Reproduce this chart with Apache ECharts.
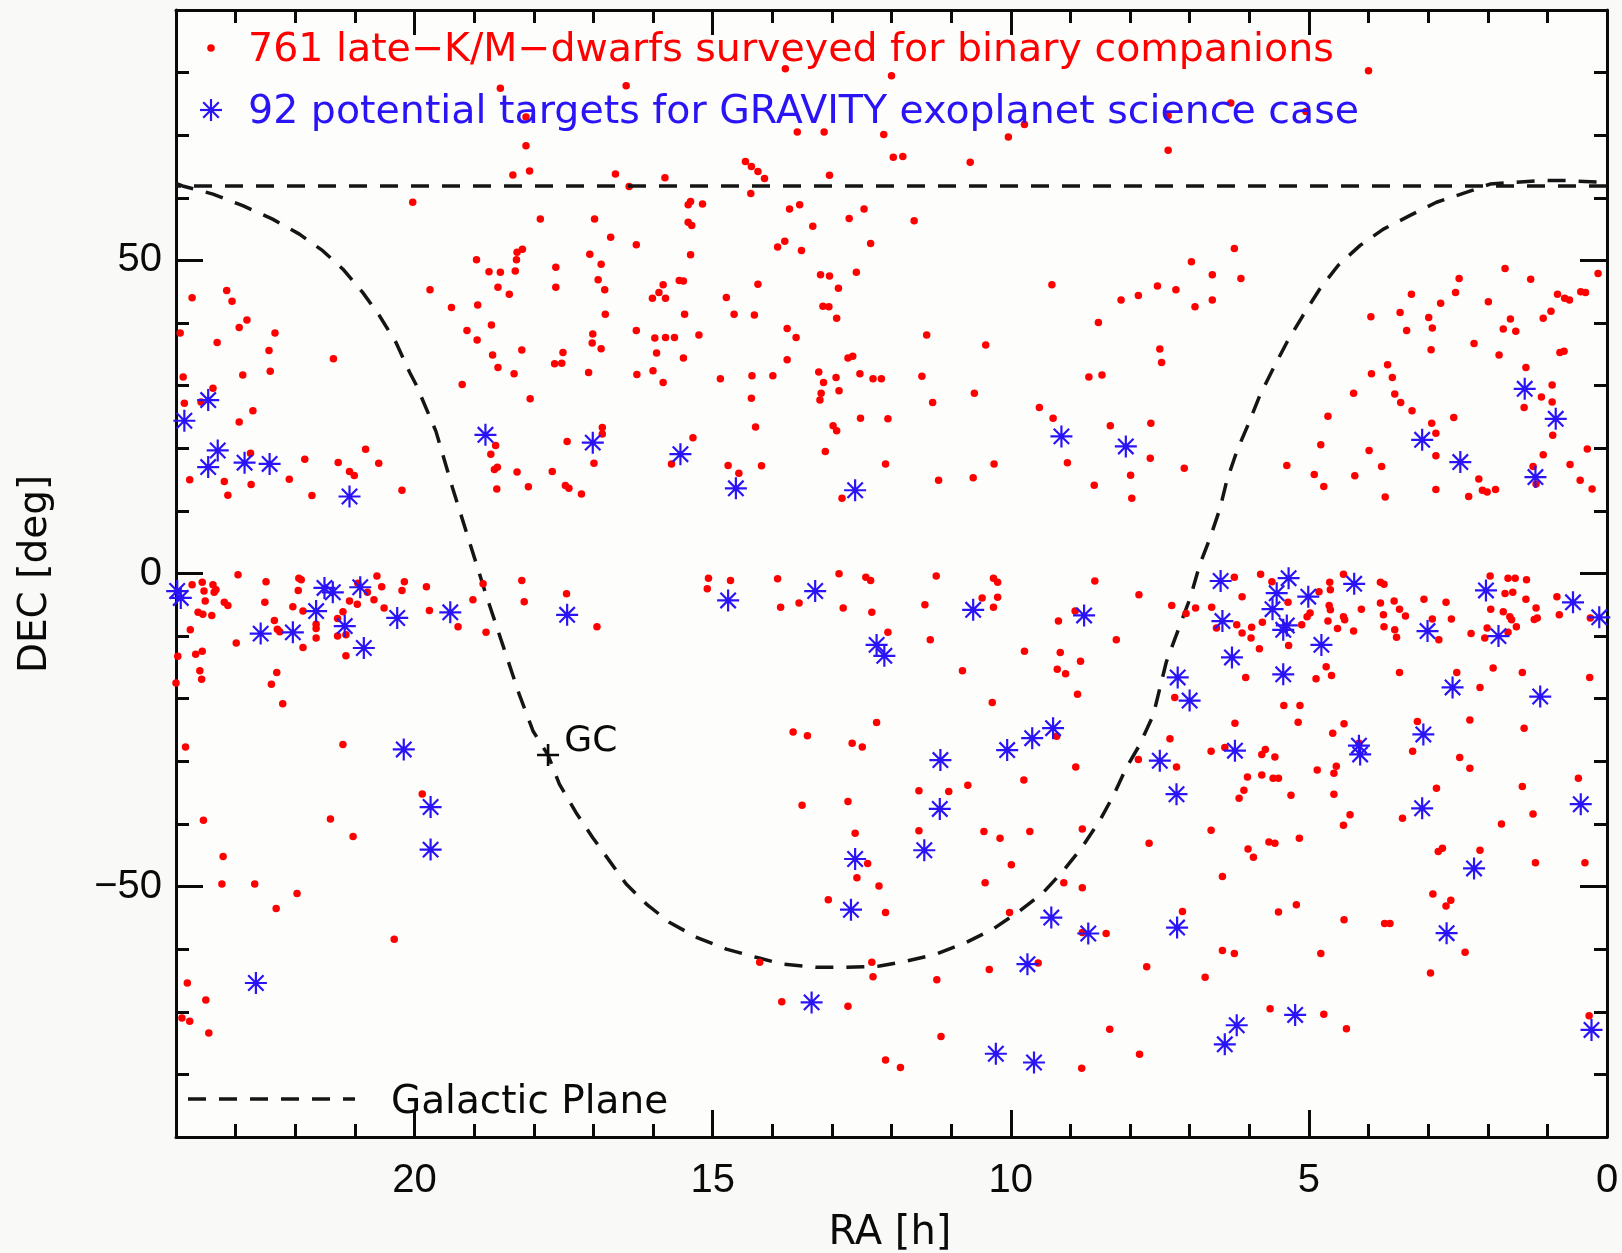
<!DOCTYPE html>
<html><head><meta charset="utf-8">
<script src="https://cdn.jsdelivr.net/npm/echarts@6/dist/echarts.min.js"></script>
<style>html,body{margin:0;padding:0;background:#f9faf8;}#chart{width:1622px;height:1253px;}</style>
</head><body><div id="chart"></div>
<script>
// ---- tick labels / ticks ----
const raMajorTicks = [0, 5, 10, 15, 20];
const raMinorTicks = [1, 2, 3, 4, 6, 7, 8, 9, 11, 12, 13, 14, 16, 17, 18, 19, 21, 22, 23];
const decMajorTicks = [-50, 0, 50];
const decMinorTicks = [-80, -70, -60, -40, -30, -20, -10, 10, 20, 30, 40, 60, 70, 80];

// ---- late-K/M dwarfs surveyed [RA h, DEC deg] ----
const dwarfs = [
[18.56,77.5],[18.13,72.9],[18.13,68.3],[18.35,63.65],[18.07,64.3],[20.03,59.3],[18.28,51.3],[18.19,51.8],[18.29,50.1],[18.96,50.1],[18.75,48.2],[18.56,48.1],[18.31,48.3],[18.6,45.7],[18.41,44.6],[19.74,45.3],[19.38,42.5],[18.94,42.9],[19.12,38.8],[18.71,39.7],[18.95,37.3],[18.69,34.9],[18.6,32.9],[18.33,31.9],[18.2,35.7],[23.73,44.05],[23.15,45.2],[23.06,43.5],[22.81,40.5],[22.94,39.3],[22.34,38.4],[23.93,38.4],[23.31,36.9],[22.44,35.6],[21.36,34.3],[22.88,31.7],[22.42,32.3],[23.88,31.4],
[16.45,77.9],[13.78,80.6],[13.58,70.5],[13.13,70.5],[12.13,70.1],[16.63,63.8],[16.4,61.8],[15.8,63.2],[14.45,65.8],[14.35,65.0],[14.24,64.2],[14.13,63.1],[14.36,60.7],[13.04,63.6],[17.89,56.6],[16.98,56.6],[16.71,53.7],[16.28,52.5],[15.41,58.9],[15.37,59.4],[15.17,59.0],[15.41,56.1],[15.35,55.6],[15.37,50.9],[17.06,51.0],[16.87,49.4],[17.63,48.9],[17.63,45.7],[16.92,46.9],[16.81,45.3],[16.8,41.4],[16.01,43.95],[15.9,44.9],[15.83,46.1],[15.79,43.95],[15.56,46.8],[15.49,46.7],[15.47,41.4],[16.28,38.8],[15.97,37.6],[15.79,37.7],[15.64,37.7],[15.23,38.1],[17.01,38.25],[17.02,36.8],[16.87,35.9],[17.51,35.3],[17.65,33.5],[17.53,33.6],[17.08,32.1],[16.27,31.8],[16.0,32.4],[15.94,35.2],[15.83,30.5],[15.49,34.4],[14.87,31.1],[14.77,44.1],[14.64,41.4],[14.3,41.3],[14.24,46.2],[13.91,52.15],[13.79,53.05],[13.51,51.6],[13.71,58.2],[13.54,58.9],[13.32,55.45],[12.71,56.7],[12.46,58.2],[12.35,52.7],[13.19,47.7],[13.04,47.5],[12.89,45.55],[12.59,48.1],[13.15,42.7],[13.05,42.6],[12.92,40.75],[13.75,39.15],[13.6,37.7],[13.75,34.15],[13.22,32.2],[13.14,30.5],[12.93,31.3],[12.73,34.4],[12.65,34.7],[12.53,31.9],[12.31,31.1],[12.17,31.1],[14.34,31.6],[13.99,31.6],
[12.0,79.5],[11.97,66.5],[11.81,66.6],[10.68,65.7],[10.04,69.7],[9.77,71.7],[7.36,67.6],[6.31,75.15],[7.36,73.1],[11.62,56.35],[9.31,46.1],[11.41,38.1],[10.42,36.5],[11.49,31.5],[8.69,31.4],[8.47,31.7],[8.53,40.1],[8.15,43.7],[7.86,44.4],[7.54,45.9],[7.23,45.3],[6.97,49.8],[6.62,47.7],[6.62,43.7],[6.91,42.6],[6.25,51.9],[6.14,47.1],[7.5,35.85],[7.47,33.7],
[4.0,80.3],[5.05,73.8],[3.96,41.0],[3.47,41.7],[3.28,44.6],[3.36,38.8],[2.99,40.9],[2.93,39.2],[2.79,43.15],[2.54,44.9],[2.48,47.1],[2.95,35.75],[2.23,36.75],[1.99,43.4],[1.71,48.7],[1.62,40.65],[1.74,39.05],[1.53,38.7],[1.81,34.9],[1.28,47.0],[1.07,40.75],[0.94,41.9],[0.83,44.6],[0.71,43.95],[0.63,43.7],[0.44,45.0],[0.36,44.9],[0.15,47.9],[0.79,35.3],[0.72,35.5],[1.36,32.9],[3.95,31.9],[3.68,33.35],[3.6,31.3],
[23.38,29.6],[19.2,30.2],[18.06,27.9],[23.86,27.2],[23.58,27.4],[22.71,26.0],[22.94,24.2],[18.64,20.45],[18.72,19.06],[18.66,16.6],[18.61,16.95],[18.62,13.5],[18.28,16.2],[18.09,13.85],[22.75,19.2],[20.82,19.86],[21.84,18.26],[21.28,17.73],[20.6,17.6],[21.09,16.3],[21.01,15.65],[23.77,14.96],[23.19,14.7],[23.13,12.5],[22.74,14.2],[22.1,15.07],[21.72,12.46],[20.21,13.3],[22.96,-0.2],[23.73,-1.8],[23.56,-1.4],[23.38,-1.8],[23.53,-2.8],[23.36,-3.0],[23.33,-2.6],[23.51,-4.4],[23.19,-4.6],[23.13,-5.1],[23.63,-6.2],[23.55,-6.5],[23.4,-6.7],[23.76,-9.0],[23.97,-13.2],[23.67,-12.9],[23.56,-12.4],[23.6,-15.55],[23.57,-16.9],[24.0,-17.5],[23.84,-27.7],[22.99,-11.1],[22.49,-1.3],[21.94,-0.75],[21.9,-1.0],[21.95,-2.7],[22.51,-4.6],[22.04,-5.3],[21.87,-6.0],[22.35,-7.5],[22.3,-8.9],[22.26,-9.3],[21.87,-11.8],[21.65,-8.1],[21.65,-8.8],[21.65,-10.3],[21.2,-6.1],[21.29,-7.2],[21.09,-4.4],[20.96,-4.9],[20.95,-1.55],[20.79,-3.0],[20.68,-4.2],[20.63,-0.4],[20.55,-2.1],[20.51,-5.5],[20.21,-2.7],[20.17,-1.3],[19.8,-2.1],[19.75,-5.9],[19.27,-8.5],[19.02,-4.2],[18.85,-1.65],[18.8,-9.4],[18.2,-1.1],[18.16,-4.5],[21.29,-10.0],[21.15,-9.8],[21.15,-13.15],[22.31,-15.8],[22.4,-17.7],[22.21,-20.8],[21.2,-27.3],
[14.35,28.0],[13.18,28.8],[13.2,27.7],[12.88,29.2],[12.52,24.8],[12.06,24.7],[14.28,23.4],[12.98,23.6],[12.92,22.8],[13.11,19.5],[12.1,17.5],[16.85,23.3],[16.85,22.3],[17.44,21.1],[16.99,17.6],[17.69,16.3],[17.47,14.05],[17.41,13.6],[17.2,12.7],[15.33,21.7],[15.69,17.5],[14.74,17.25],[14.56,16.0],[14.18,17.2],[12.83,12.0],[17.45,-3.25],[16.94,-8.5],[15.07,-0.75],[15.09,-2.45],[14.7,-1.1],[13.91,-0.85],[13.86,-5.4],[13.55,-4.7],[12.88,-0.05],[12.43,-0.6],[12.35,-1.1],[12.81,-5.5],[12.33,-6.2],[12.06,-9.4],[12.25,-23.8],[13.65,-25.3],[13.41,-25.9],[12.66,-27.1],[12.49,-27.7],
[10.61,28.8],[11.31,27.3],[9.52,26.5],[9.29,24.8],[8.33,23.6],[7.65,24.0],[10.28,17.5],[11.21,14.9],[10.63,15.3],[9.05,17.7],[8.6,14.1],[7.99,15.7],[7.97,12.0],[7.66,18.4],[7.09,16.8],[11.25,-0.4],[10.29,-0.75],[10.22,-1.4],[11.44,-5.0],[10.48,-3.9],[10.22,-3.8],[10.29,-5.4],[8.59,-1.2],[7.85,-3.4],[7.3,-5.1],[7.06,-6.4],[6.9,-5.5],[6.63,-5.4],[6.25,-0.6],[6.12,-3.7],[6.21,-8.2],[6.12,-9.5],[5.96,-8.6],[5.97,-10.3],[6.55,-8.7],[8.92,-6.0],[9.2,-7.6],[11.35,-10.6],[8.23,-10.6],[9.77,-12.4],[9.17,-12.6],[8.83,-14.0],[9.22,-15.3],[9.08,-16.0],[10.81,-15.55],[8.88,-19.3],[10.31,-20.6],[7.25,-19.8],[6.06,-16.6],[6.24,-23.9],[7.33,-26.4],[6.64,-28.4],[6.41,-27.8],[7.86,-29.7],[9.23,-26.0],
[4.25,28.8],[3.56,28.65],[3.46,27.3],[3.27,26.0],[4.68,25.1],[2.94,24.0],[2.87,22.4],[2.57,24.9],[2.87,18.8],[4.8,20.55],[3.99,19.65],[5.37,17.25],[4.91,15.8],[4.75,13.9],[4.23,15.6],[3.78,17.1],[3.72,12.2],[2.87,13.4],[2.32,12.3],[2.15,15.1],[2.09,13.3],[2.01,13.0],[1.87,13.4],[1.39,26.5],[1.1,28.2],[0.92,30.1],[0.92,27.4],[0.91,22.1],[1.07,18.95],[1.24,17.1],[1.19,14.3],[0.62,17.4],[0.45,14.9],[0.25,13.5],[0.33,19.9],[5.81,-0.1],[5.62,-1.3],[5.35,-4.6],[5.78,-7.8],[5.83,-12.0],[5.34,-11.5],[5.12,-8.2],[5.03,-6.9],[4.98,-6.3],[4.83,-2.9],[4.65,-1.4],[4.64,-2.6],[4.66,-5.1],[4.64,-5.8],[4.68,-7.6],[4.52,-8.8],[4.42,-0.1],[4.42,-6.9],[4.4,-7.4],[4.25,-9.2],[4.12,-5.7],[3.8,-1.4],[3.74,-1.7],[3.8,-4.7],[3.75,-6.6],[3.74,-8.5],[3.57,-4.4],[3.48,-5.7],[3.38,-6.8],[3.56,-9.0],[3.53,-10.2],[3.07,-4.1],[2.93,-7.25],[2.82,-10.6],[2.7,-4.6],[2.61,-7.25],[2.28,-9.6],[1.96,-0.4],[1.66,-0.75],[1.54,-0.75],[1.35,-1.0],[1.71,-3.2],[1.58,-3.0],[1.36,-4.1],[1.95,-5.7],[1.74,-6.1],[1.63,-6.9],[1.6,-7.4],[1.19,-5.5],[1.22,-7.35],[1.17,-7.1],[1.52,-8.5],[2.01,-8.7],[2.05,-10.3],[1.66,-9.4],[0.84,-3.7],[0.8,-6.6],[0.28,-7.1],[4.71,-14.9],[4.62,-16.3],[4.88,-16.8],[5.42,-21.1],[5.15,-21.1],[5.18,-23.75],[4.41,-24.0],[4.6,-25.5],[5.73,-28.1],[5.79,-28.9],[5.57,-29.3],[3.48,-15.8],[2.52,-15.8],[2.13,-18.2],[1.91,-15.1],[1.42,-15.8],[0.29,-16.6],[3.18,-23.65],[3.26,-28.4],[2.47,-29.4],[2.3,-23.4],[1.39,-24.7],[4.16,-27.1],
[19.87,-35.2],[23.54,-39.4],[21.41,-39.2],[21.03,-42.0],[23.21,-45.2],[23.23,-49.6],[22.68,-49.6],[21.97,-51.1],[22.32,-53.5],[20.34,-58.4],[23.81,-65.4],[23.5,-68.1],[23.9,-71.0],[23.77,-71.5],[23.45,-73.4],
[13.5,-37.0],[12.73,-36.4],[12.61,-41.5],[12.4,-46.3],[12.58,-48.6],[12.21,-49.9],[13.06,-52.1],[12.1,-54.15],[14.21,-62.1],[12.33,-62.1],[12.31,-64.4],[13.84,-68.4],[12.73,-69.1],[12.1,-77.7],
[8.91,-30.9],[7.22,-30.9],[11.54,-34.7],[11.04,-34.8],[10.72,-33.8],[9.78,-33.0],[11.54,-41.1],[10.45,-41.2],[10.18,-42.3],[9.68,-41.2],[8.8,-40.8],[9.99,-46.5],[10.43,-49.4],[9.11,-49.4],[8.8,-50.2],[10.02,-54.15],[8.8,-57.35],[8.4,-57.5],[9.54,-62.2],[10.36,-63.25],[11.24,-64.9],[7.72,-62.8],[7.68,-43.1],[6.03,-32.5],[6.09,-34.6],[6.17,-35.9],[6.64,-41.0],[6.02,-44.0],[5.93,-45.3],[6.45,-48.4],[7.12,-54.0],[6.45,-60.2],[6.25,-60.7],[6.74,-64.5],[11.17,-73.95],[11.85,-78.9],[8.34,-72.8],[7.84,-76.8],[8.81,-79.0],
[5.79,-32.2],[5.6,-32.7],[5.51,-32.7],[5.3,-35.4],[4.86,-31.4],[4.58,-31.9],[4.54,-30.8],[4.58,-35.25],[4.31,-38.55],[4.42,-40.2],[5.67,-42.9],[5.57,-43.1],[5.16,-42.3],[3.43,-39.1],[2.86,-34.3],[2.3,-31.1],[2.83,-44.4],[2.76,-43.9],[2.13,-44.2],[1.77,-40.0],[1.42,-34.0],[1.24,-38.4],[1.2,-46.2],[0.48,-32.7],[0.37,-46.2],[2.92,-51.2],[2.7,-53.1],[2.62,-52.2],[5.51,-54.05],[5.21,-52.9],[4.41,-55.3],[3.73,-55.9],[3.64,-55.9],[4.8,-60.7],[2.38,-60.5],[2.96,-63.8],[5.65,-69.5],[4.75,-70.4],[4.37,-72.7],[0.3,-70.65]
];

// ---- potential GRAVITY targets [RA h, DEC deg] ----
const targets = [
[23.46,27.7],[23.86,24.4],[23.3,19.65],[23.46,17.0],[22.85,17.7],[22.43,17.5],[21.09,12.3],[18.81,22.15],[23.98,-2.8],[23.92,-3.9],
[21.51,-2.3],[21.37,-3.0],[20.91,-2.2],[21.65,-6.0],[21.17,-8.4],[22.58,-9.6],[22.04,-9.4],[20.85,-11.9],[20.29,-7.1],[19.4,-6.2],
[20.18,-28.1],[17.01,20.9],[15.54,19.06],[14.61,13.6],[12.61,13.3],[17.44,-6.6],[14.74,-4.3],[13.28,-2.8],[12.25,-11.4],[12.12,-13.15],
[9.15,21.9],[8.07,20.3],[10.63,-5.8],[8.77,-6.7],[6.48,-1.2],[6.45,-7.6],[6.29,-13.4],[7.2,-16.6],[7.0,-20.3],[9.29,-24.7],
[9.64,-26.3],[10.06,-28.2],[11.18,-29.8],[7.5,-29.9],[6.24,-28.3],[1.38,29.5],[0.86,24.7],[3.1,21.35],[2.46,17.8],[1.2,15.4],
[5.34,-0.75],[5.54,-3.15],[5.01,-3.7],[5.61,-5.7],[5.43,-9.0],[5.37,-8.3],[4.24,-1.65],[4.79,-11.4],[5.43,-16.1],[3.01,-9.2],
[2.03,-2.7],[1.82,-10.0],[0.57,-4.6],[0.13,-7.0],[2.59,-18.2],[1.12,-19.65],[3.08,-25.7],[4.16,-27.5],[4.14,-28.9],[19.73,-37.3],
[19.73,-44.1],[22.66,-65.4],[12.61,-45.6],[12.68,-53.7],[13.34,-68.5],[11.19,-37.6],[11.45,-44.2],[9.32,-54.95],[8.7,-57.5],[9.72,-62.4],
[7.21,-56.55],[10.25,-76.7],[9.61,-78.1],[6.21,-72.15],[6.41,-75.2],[7.22,-35.25],[3.1,-37.5],[2.23,-47.1],[2.69,-57.45],[5.23,-70.5],
[0.44,-36.85],[0.26,-72.9]
];

// ---- galactic plane ----
const galacticPlane = [
[24.0,62.3],[23.89,61.9],[23.38,60.6],[22.88,58.75],[22.38,56.6],[21.93,54.2],[21.54,51.56],[21.2,48.6],[20.87,44.9],[20.59,41.2],[20.31,36.9],[20.08,32.1],[19.97,30.1],
[19.64,22.7],[19.36,13.6],[19.08,5.1],[18.8,-3.4],[18.52,-11.4],[18.24,-19.4],[18.01,-25.2],[17.76,-29.0],[17.57,-33.65],[17.29,-38.2],[17.01,-42.2],[16.73,-45.9],
[16.45,-49.6],[16.11,-52.8],[15.72,-55.75],[15.27,-58.1],[14.77,-60.0],[14.27,-61.3],[13.82,-62.4],[13.26,-62.9],[12.76,-62.9],[12.2,-62.7],[11.75,-61.9],[11.25,-60.8],
[10.74,-58.9],[10.3,-56.8],[9.85,-53.9],[9.46,-51.0],[9.12,-47.5],[8.81,-43.8],[8.51,-39.5],[8.28,-35.5],[8.06,-31.0],[7.84,-27.4],[7.61,-22.6],[7.39,-14.1],
[7.16,-8.2],[6.99,-3.9],[6.83,1.4],[6.66,5.6],[6.49,10.4],[6.38,14.7],[6.21,19.5],[6.02,23.75],[5.82,28.5],[5.6,32.7],[5.37,36.9],[5.1,41.2],[4.82,45.4],[4.51,49.2],
[4.14,52.4],[3.75,55.0],[3.31,57.15],[2.86,59.3],[2.35,60.9],[1.96,62.2],[1.52,62.5],[1.07,62.75],[0.68,62.75],[0.12,62.5],[0.0,62.4]
];
const northLimitDec = 62;
const galacticCenter = [[17.76, -29.0]];

// ---- texts ----
const legendDwarfs = '761 late\u2212K/M\u2212dwarfs surveyed for binary companions';
const legendTargets = '92 potential targets for GRAVITY exoplanet science case';
const legendPlane = 'Galactic Plane';
const xTitle = 'RA [h]';
const yTitle = 'DEC [deg]';

const RED = '#ff0000', BLUE = '#2a14f5', INK = '#0a0a0a', DASH = '#151515';
const STAR = 'path://M0,10L20,10M10,0L10,20M3,3L17,17M17,3L3,17';
const PLUS = 'path://M0,10L20,10M10,0L10,20';
const G = {left: 176, top: 10, width: 1431, height: 1127};
const tickFont = {fontFamily: 'Liberation Sans', fontSize: 40, color: INK};

function xAx(grid, pos, major) {
  return {
    type: 'value', gridIndex: grid, position: pos, min: 0, max: 24, inverse: true,
    axisLine: {show: major, onZero: false, lineStyle: {color: INK, width: 3}},
    axisTick: {show: true, inside: true, length: major ? (pos === 'top' ? 25 : 27) : 13,
      customValues: major ? raMajorTicks : raMinorTicks, lineStyle: {color: INK, width: 3}},
    axisLabel: {show: major && pos === 'bottom', customValues: raMajorTicks, margin: 24, ...tickFont},
    splitLine: {show: false}
  };
}
function yAx(grid, pos, major) {
  return {
    type: 'value', gridIndex: grid, position: pos, min: -90, max: 90,
    axisLine: {show: major, onZero: false, lineStyle: {color: INK, width: 3}},
    axisTick: {show: true, inside: true, length: major ? 27 : 13,
      customValues: major ? decMajorTicks : decMinorTicks, lineStyle: {color: INK, width: 3}},
    axisLabel: {show: major && pos === 'left', customValues: decMajorTicks, margin: 14,
      formatter: v => v < 0 ? '\u2212' + Math.abs(v) : String(v), ...tickFont},
    splitLine: {show: false}
  };
}

// legend star symbol built from line graphics around a centre
function legendStar(cx, cy, r) {
  const d = r * 0.71;
  return [[-r, 0, r, 0], [0, -r, 0, r], [-d, -d, d, d], [d, -d, -d, d]].map(s => ({
    type: 'line', z: 10,
    shape: {x1: cx + s[0], y1: cy + s[1], x2: cx + s[2], y2: cy + s[3]},
    style: {stroke: BLUE, lineWidth: 2.2}
  }));
}

const chart = echarts.init(document.getElementById('chart'), null, {renderer: 'canvas'});
chart.setOption({
  animation: false,
  backgroundColor: '#f9faf8',
  grid: [
    Object.assign({show: true, backgroundColor: '#fdfefc', borderWidth: 0}, G),
    Object.assign({show: false}, G)
  ],
  xAxis: [xAx(0, 'bottom', true), xAx(0, 'top', true), xAx(1, 'bottom', false), xAx(1, 'top', false)],
  yAxis: [yAx(0, 'left', true), yAx(0, 'right', true), yAx(1, 'left', false), yAx(1, 'right', false)],
  series: [
    {
      type: 'line', xAxisIndex: 0, yAxisIndex: 0, data: galacticPlane, showSymbol: false,
      smooth: false, silent: true, z: 2,
      lineStyle: {color: DASH, width: 3.5, type: [18, 13]},
      markLine: {silent: true, symbol: 'none', label: {show: false},
        lineStyle: {color: DASH, width: 3.5, type: [18, 13]},
        data: [{yAxis: northLimitDec}]}
    },
    {
      type: 'scatter', xAxisIndex: 0, yAxisIndex: 0, data: dwarfs, symbol: 'circle', symbolSize: 7.5,
      itemStyle: {color: RED, opacity: 1}, silent: true, z: 3
    },
    {
      type: 'scatter', xAxisIndex: 0, yAxisIndex: 0, data: targets, symbol: STAR, symbolSize: 22,
      itemStyle: {color: 'rgba(0,0,0,0)', borderColor: BLUE, borderWidth: 2.2, opacity: 1}, silent: true, z: 4
    },
    {
      type: 'scatter', xAxisIndex: 0, yAxisIndex: 0, data: galacticCenter, symbol: PLUS, symbolSize: 22,
      itemStyle: {color: 'rgba(0,0,0,0)', borderColor: INK, borderWidth: 2.6, opacity: 1}, silent: true, z: 5,
      label: {show: true, position: 'right', distance: 4, offset: [0, -13], formatter: 'GC',
        fontFamily: 'DejaVu Sans', fontSize: 36, color: INK, opacity: 1}
    }
  ],
  graphic: [
    {type: 'circle', shape: {cx: 211, cy: 48, r: 3.8}, style: {fill: RED}, z: 10},
    {type: 'text', x: 248, y: 51, style: {text: legendDwarfs, fill: RED, font: '39.5px "DejaVu Sans"', verticalAlign: 'middle'}, z: 10},
    ...legendStar(211, 110, 11),
    {type: 'text', x: 248, y: 113, style: {text: legendTargets, fill: BLUE, font: '39.5px "DejaVu Sans"', verticalAlign: 'middle'}, z: 10},
    {type: 'line', shape: {x1: 188, y1: 1099, x2: 355, y2: 1099}, style: {stroke: DASH, lineWidth: 3.5, lineDash: [18, 13]}, z: 10},
    {type: 'text', x: 391, y: 1103, style: {text: legendPlane, fill: INK, font: '39px "DejaVu Sans"', verticalAlign: 'middle'}, z: 10},
    {type: 'text', x: 890, y: 1234, style: {text: xTitle, fill: INK, font: '40px "DejaVu Sans"', align: 'center', verticalAlign: 'middle'}, z: 10},
    {type: 'text', x: 36, y: 574, rotation: Math.PI / 2, style: {text: yTitle, fill: INK, font: '39px "DejaVu Sans"', align: 'center', verticalAlign: 'middle'}, z: 10}
  ]
});
</script>
</body></html>
